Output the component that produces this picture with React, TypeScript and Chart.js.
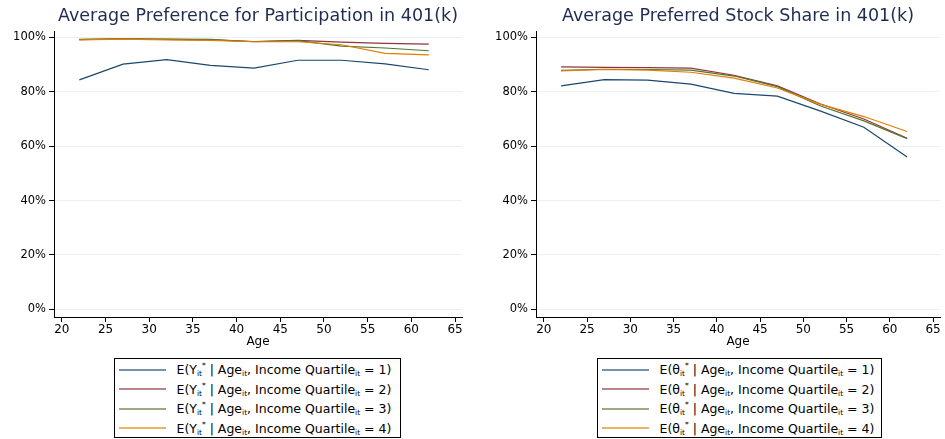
import React, { useEffect, useRef } from 'react';
import { Chart, registerables } from 'chart.js';

Chart.register(...registerables);

// ---------- data ----------
const AGES = [22, 27, 32, 37, 42, 47, 52, 57, 62];

const PART_Q1 = [84.4, 90.2, 91.8, 89.7, 88.7, 91.6, 91.6, 90.3, 88.1];
const PART_Q2 = [99.2, 99.5, 99.3, 99.1, 98.5, 98.9, 98.3, 97.8, 97.5];
const PART_Q3 = [99.3, 99.5, 99.4, 99.3, 98.4, 98.8, 96.8, 96.1, 95.1];
const PART_Q4 = [99.1, 99.4, 99.1, 98.9, 98.4, 98.4, 97.3, 94.1, 93.6];

const STOCK_Q1 = [82.2, 84.5, 84.3, 82.8, 79.4, 78.4, 72.9, 67.0, 56.0];
const STOCK_Q2 = [89.2, 89.0, 88.9, 88.7, 86.1, 82.2, 75.5, 70.0, 62.9];
const STOCK_Q3 = [87.9, 88.3, 88.2, 88.0, 85.8, 81.9, 74.8, 69.3, 62.8];
const STOCK_Q4 = [87.7, 88.2, 88.0, 87.2, 85.0, 81.4, 75.4, 70.9, 65.4];

const X_TICKS = [20, 25, 30, 35, 40, 45, 50, 55, 60, 65];
const Y_TICKS = [0, 20, 40, 60, 80, 100];

const QUARTILES = [1, 2, 3, 4];
const COLORS = ['#1a476f', '#90353b', '#55752f', '#e37e00'];

const FONT = 'DejaVu Sans';
const TITLE_COLOR = '#1f2c52';
const GRID_COLOR = '#e9f0f2';

type PanelProps = {
  left: number;
  width: number;
  rightPad: number;
  title: string;
  series: number[][];
  symbol: string;
  legendLeft: number;
  legendWidth: number;
};

function Panel({ left, width, rightPad, title, series, symbol, legendLeft, legendWidth }: PanelProps) {
  const ref = useRef<HTMLCanvasElement | null>(null);

  useEffect(() => {
    if (!ref.current) return;
    const datasets = series.map((vals, i) => ({
      label: 'Q' + QUARTILES[i],
      data: AGES.map((a, j) => ({ x: a, y: vals[j] })),
      borderColor: COLORS[i],
      backgroundColor: COLORS[i],
      borderWidth: 1.2,
      pointRadius: 0,
      tension: 0,
      fill: false,
      order: series.length - 1 - i,
    }));
    const chart = new Chart(ref.current, {
      type: 'line',
      data: { datasets },
      options: {
        animation: false,
        responsive: false,
        devicePixelRatio: 1,
        layout: { padding: { left: 0, right: rightPad, top: 0, bottom: 0 } },
        plugins: {
          legend: { display: false },
          tooltip: { enabled: false },
          title: {
            display: true,
            text: title,
            color: TITLE_COLOR,
            fullSize: false,
            font: { family: FONT, size: 17.5, weight: 'normal', lineHeight: 1.2 },
            padding: { top: 6, bottom: 4.7 },
          },
        },
        scales: {
          x: {
            type: 'linear',
            min: 19.1,
            max: 65.8,
            afterFit: (s: any) => {
              s.height = 31;
            },
            afterBuildTicks: (s: any) => {
              s.ticks = X_TICKS.map((v) => ({ value: v }));
            },
            ticks: {
              stepSize: 5,
              includeBounds: false,
              autoSkip: false,
              maxRotation: 0,
              color: '#000',
              padding: 2,
              font: { family: FONT, size: 12, lineHeight: 1 },
            },
            grid: { drawOnChartArea: false, tickLength: 5, color: '#000', tickColor: '#000' },
            border: { color: '#000', width: 1 },
            title: {
              display: true,
              text: 'Age',
              color: '#000',
              padding: 0,
              font: { family: FONT, size: 12, lineHeight: 1 },
            },
          },
          y: {
            type: 'linear',
            min: -2.8,
            max: 102.1,
            afterFit: (s: any) => {
              s.width = 54;
            },
            afterBuildTicks: (s: any) => {
              s.ticks = Y_TICKS.map((v) => ({ value: v }));
            },
            ticks: {
              stepSize: 20,
              includeBounds: false,
              color: '#000',
              padding: 3,
              font: { family: FONT, size: 11.5, lineHeight: 1 },
              callback: (v: any) => v + '%',
            },
            grid: { color: GRID_COLOR, tickColor: '#000', tickLength: 5, lineWidth: 1 },
            border: { color: '#000', width: 1 },
          },
        },
      },
    } as any);
    return () => chart.destroy();
  }, []);

  const sub: React.CSSProperties = { fontSize: '7.5px', verticalAlign: '-2px', lineHeight: 0 };
  const sup: React.CSSProperties = { fontSize: '7.5px', verticalAlign: '6px', lineHeight: 0 };

  return (
    <>
      <canvas
        ref={ref}
        width={width}
        height={348}
        style={{ position: 'absolute', left, top: 0, width, height: 348 }}
      />
      <div
        style={{
          position: 'absolute',
          left: legendLeft,
          top: 358,
          width: legendWidth,
          height: 80,
          boxSizing: 'border-box',
          border: '1px solid #000',
          paddingTop: 1,
          background: '#fff',
          fontFamily: FONT,
          fontSize: '12.5px',
          color: '#000',
        }}
      >
        {QUARTILES.map((q, i) => (
          <div key={q} style={{ display: 'flex', alignItems: 'center', height: 19.45, whiteSpace: 'nowrap' }}>
            <span
              style={{
                display: 'inline-block',
                marginLeft: 4,
                width: 47,
                height: 2,
                background: COLORS[i],
                opacity: 0.6,
              }}
            />
            <span style={{ marginLeft: 10.5 }}>
              E({symbol}
              <span style={sub}>it</span>
              <span style={sup}>*</span> | Age<span style={sub}>it</span>, Income Quartile
              <span style={sub}>it</span> = {q})
            </span>
          </div>
        ))}
      </div>
    </>
  );
}

export default function App() {
  return (
    <div style={{ position: 'absolute', left: 0, top: 0, width: 945, height: 439, background: '#fff', overflow: 'hidden' }}>
      <Panel
        left={0}
        width={472}
        rightPad={10}
        title="Average Preference for Participation in 401(k)"
        series={[PART_Q1, PART_Q2, PART_Q3, PART_Q4]}
        symbol="Y"
        legendLeft={114}
        legendWidth={287}
      />
      <Panel
        left={482}
        width={463}
        rightPad={5}
        title="Average Preferred Stock Share in 401(k)"
        series={[STOCK_Q1, STOCK_Q2, STOCK_Q3, STOCK_Q4]}
        symbol="θ"
        legendLeft={597}
        legendWidth={285}
      />
    </div>
  );
}
